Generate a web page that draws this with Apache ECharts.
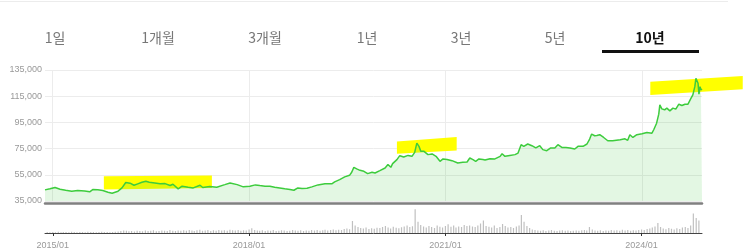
<!DOCTYPE html>
<html><head><meta charset="utf-8">
<script src="https://cdn.jsdelivr.net/npm/echarts@6/dist/echarts.min.js"></script>
<style>html,body{margin:0;padding:0;background:#fff}#c{width:743px;height:250px}</style>
</head><body><div id="c"></div>
<script>
const tabLabels = ['1일','1개월','3개월','1년','3년','5년','10년'];
const activeTab = '10년';
const tickDates = ['2015-01-01','2018-01-01','2021-01-01','2024-01-01'];
const yTicks = [35000, 135000, 20000];

const priceDates = [
'2014-11-22','2014-12-03','2014-12-20','2015-01-17','2015-02-14','2015-03-17','2015-04-20','2015-05-23','2015-07-01','2015-07-29',
'2015-08-15','2015-09-12','2015-10-10','2015-11-08','2015-12-01','2016-01-03','2016-01-25','2016-02-15','2016-03-10','2016-04-01',
'2016-04-22','2016-05-15','2016-06-06','2016-06-25','2016-07-26','2016-08-24','2016-09-21','2016-10-19','2016-11-04','2016-12-03',
'2016-12-25','2017-01-28','2017-02-25','2017-04-04','2017-04-19','2017-05-28','2017-07-06','2017-08-20','2017-09-18','2017-10-28',
'2017-12-01','2018-01-07','2018-02-06','2018-03-03','2018-04-01','2018-04-28','2018-05-25','2018-06-22','2018-07-20','2018-08-18',
'2018-09-09','2018-10-01','2018-10-24','2018-11-21','2018-12-18','2019-01-21','2019-03-01','2019-04-08','2019-04-24','2019-05-22',
'2019-06-19','2019-07-16','2019-07-28','2019-08-09','2019-08-25','2019-09-12','2019-10-04','2019-10-25','2019-11-18','2019-12-05',
'2020-01-01','2020-01-30','2020-02-15','2020-03-02','2020-03-12','2020-04-05','2020-04-21','2020-05-13','2020-06-06','2020-06-28',
'2020-07-13','2020-07-25','2020-08-06','2020-08-16','2020-09-03','2020-09-25','2020-10-18','2020-11-09','2020-12-01','2020-12-18',
'2021-01-09','2021-02-06','2021-03-10','2021-04-07','2021-05-01','2021-05-16','2021-06-03','2021-06-18','2021-07-06','2021-07-28',
'2021-08-09','2021-09-06','2021-10-03','2021-11-01','2021-11-12','2021-11-28','2021-12-25','2022-01-23','2022-02-09','2022-02-26',
'2022-03-13','2022-04-04','2022-04-27','2022-05-19','2022-06-10','2022-06-27','2022-07-19','2022-08-10','2022-09-02','2022-09-19',
'2022-10-11','2022-11-03','2022-11-25','2022-12-22','2023-01-09','2023-02-06','2023-02-28','2023-03-15','2023-03-26','2023-04-12',
'2023-04-24','2023-05-10','2023-06-01','2023-06-24','2023-07-21','2023-09-01','2023-09-28','2023-10-13','2023-10-25','2023-11-11',
'2023-12-03','2024-01-01','2024-01-28','2024-02-25','2024-03-06','2024-03-22','2024-04-03','2024-04-09','2024-04-20','2024-05-06',
'2024-05-18','2024-06-04','2024-06-21','2024-07-07','2024-07-24','2024-08-10','2024-08-27','2024-09-13','2024-09-30','2024-10-10',
'2024-10-21','2024-10-27','2024-11-08','2024-11-13','2024-11-19','2024-11-24','2024-11-30'
];
const priceValues = [
43500,42500,44300,45300,44000,43200,42500,43000,42700,42000,
43700,43500,43000,41700,40900,42500,45000,49100,48600,47000,
48100,49300,50100,49300,48800,48100,48300,46800,47800,44300,
46300,45500,45000,47000,45300,46000,45500,47500,48800,47500,
45800,46300,47300,46800,46300,46300,45500,45000,44300,43700,
43200,45000,44500,44700,45800,47300,48100,48100,49600,51300,
53400,54600,56900,60700,59500,58400,57700,55900,56900,56400,
58200,60200,62800,60700,63500,66600,69600,68600,69800,69100,
72100,79200,76700,72900,72900,70400,70900,69100,65300,67100,
66600,65800,64000,64500,64800,67800,66600,65300,67100,66600,
66300,67300,67100,69100,71100,69100,69800,70400,71600,78000,
76700,78500,77200,75500,77200,74200,73400,75500,75500,78000,
75900,75900,75500,74700,76700,76700,78500,82300,86100,84800,
85000,85600,83500,81000,81000,81800,82500,81300,85600,83500,
85600,86300,87300,86800,89400,94400,101300,108400,105300,104600,
105900,103800,105900,105100,108900,107900,108900,108900,113500,116000,
122300,128700,124900,116500,122300,119800,120500
];

// half-monthly volume index (1st and 16th of each month), from 2014-12
const volumeStart = [2014, 12];
const volumeValues = [
4,3,
4,3,5,3,4,4,3,5,4,3,4,4,3,5,4,4,3,4,5,4,4,3,4,5,
6,8,10,9,7,8,6,9,8,7,10,8,9,11,7,8,10,9,8,12,9,8,10,9,
11,9,12,10,8,11,13,9,10,12,8,11,9,12,10,11,9,13,11,10,12,9,11,10,
14,19,12,10,9,11,8,10,9,12,8,9,11,10,8,9,12,10,9,11,8,10,9,12,
10,12,9,11,13,10,12,14,11,13,12,16,18,15,48,30,24,20,18,22,16,19,17,21,
20,24,28,22,18,25,21,19,23,26,30,24,27,95,45,32,26,22,28,24,20,30,25,22,
28,35,25,30,22,26,24,32,28,30,26,24,30,38,50,28,25,22,30,20,24,36,28,22,
24,20,26,30,72,45,28,20,14,12,10,9,11,8,10,12,9,8,10,11,9,10,8,9,
10,9,11,12,10,24,14,10,9,11,8,10,9,12,10,11,9,13,10,12,9,11,10,12,
14,12,16,18,22,26,40,24,18,15,20,17,14,19,16,22,24,20,30,78,60,50
];

// yellow highlighter strokes: [fromDate, topLeft, bottomLeft, toDate, topRight, bottomRight]
const highlights = [
  ['2015-10-16', 53900, 43700, '2017-06-09', 54500, 45000],
  ['2020-04-05', 80500, 71100, '2021-03-04', 83800, 73600],
  ['2024-02-16', 126100, 116000, '2025-07-15', 130400, 120300]
];

function toTime(s){const p=s.split('-').map(Number);return new Date(p[0],p[1]-1,p[2]||1).getTime();}

const priceData = priceDates.map((d,i)=>[toTime(d), priceValues[i]]);
const volumeData = volumeValues.map((v,k)=>{
  const mIdx = volumeStart[1]-1 + Math.floor(k/2);
  const t = new Date(volumeStart[0] + Math.floor(mIdx/12), mIdx%12, k%2 ? 16 : 1).getTime();
  return [t, v];
});
const highlightData = highlights.map(h=>[toTime(h[0]), h[1], h[2], toTime(h[3]), h[4], h[5]]);
const tMin = toTime(priceDates[0]);
const tMax = toTime(priceDates[priceDates.length-1]);
const ticks = tickDates.map(toTime);

const tabCenters = [55,158,265,367,461,555,650];
const graphics = [
  {type:'rect', shape:{x:0,y:1,width:728,height:1}, style:{fill:'#ececec'}, silent:true},
  {type:'rect', shape:{x:602,y:50,width:97,height:3}, style:{fill:'#111'}, silent:true}
];
tabLabels.forEach((t,i)=>{
  const act = t===activeTab;
  graphics.push({type:'text', x:tabCenters[i], y:38, silent:true,
    style:{text:t, align:'center', verticalAlign:'middle',
      font:(act?'bold ':'')+'14px "Noto Sans CJK KR", sans-serif',
      fill: act ? '#111' : '#777'}});
});

const chart = echarts.init(document.getElementById('c'), null, {renderer:'canvas'});
chart.setOption({
  animation:false,
  backgroundColor:'#fff',
  graphic: graphics,
  grid:[
    {left:45, right:41, top:70, height:131},
    {left:45, right:41, top:208, height:33}
  ],
  xAxis:[
    {type:'time', gridIndex:0, min:tMin, max:tMax, offset:2,
     axisLine:{show:true, lineStyle:{color:'#808080', width:2.5}},
     axisTick:{show:false, customValues:ticks},
     axisLabel:{show:false, customValues:ticks},
     splitLine:{show:true, lineStyle:{color:'#ececec', width:1}}},
    {type:'time', gridIndex:1, min:tMin, max:tMax,
     axisLine:{show:true, lineStyle:{color:'#444', width:1}},
     axisTick:{show:true, length:3, customValues:ticks, lineStyle:{color:'#333'}},
     axisLabel:{show:true, customValues:ticks, formatter:'{yyyy}/{MM}', fontSize:9, color:'#999', margin:8, fontFamily:'Liberation Sans'},
     splitLine:{show:false}}
  ],
  yAxis:[
    {type:'value', gridIndex:0, min:yTicks[0], max:yTicks[1], interval:yTicks[2],
     axisLine:{show:false}, axisTick:{show:false},
     axisLabel:{fontSize:9, color:'#999', margin:3, fontFamily:'Liberation Sans',
       formatter:v=>v.toLocaleString('en-US')},
     splitLine:{lineStyle:{color:'#ececec', width:1}}},
    {type:'value', gridIndex:1, min:0, max:100, show:false, splitLine:{show:false}}
  ],
  series:[
    {type:'bar', xAxisIndex:1, yAxisIndex:1, data:volumeData, barWidth:1.2,
     itemStyle:{color:'#c0c0c0'}, silent:true},
    {type:'custom', xAxisIndex:0, yAxisIndex:0, data:highlightData, z:1, silent:true, clip:false,
     encode:{x:[0,3], y:[1,2,4,5]},
     renderItem:(params, api)=>{
       const a = api.coord([api.value(0), api.value(1)]);
       const b = api.coord([api.value(3), api.value(4)]);
       const c = api.coord([api.value(3), api.value(5)]);
       const d = api.coord([api.value(0), api.value(2)]);
       return {type:'polygon', shape:{points:[a,b,c,d]}, style:{fill:'#ffff00'}};
     }},
    {type:'line', xAxisIndex:0, yAxisIndex:0, data:priceData, symbol:'none', showSymbol:false, z:3,
     lineStyle:{color:'#3dcc3d', width:1.5}, areaStyle:{color:'rgba(60,200,60,0.2)'}}
  ]
});
</script></body></html>
